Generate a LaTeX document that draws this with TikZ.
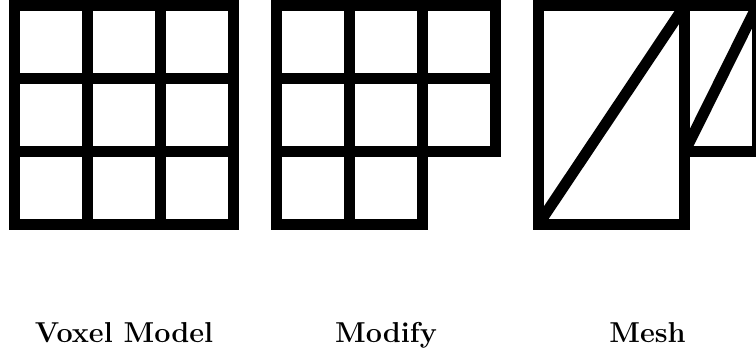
\documentclass[tikz,border=0pt]{standalone}
\usepackage{tikz}
\usetikzlibrary{positioning}

\begin{document}
\begin{tikzpicture}[
    x=0.5pt, y=-0.5pt,
    edge/.style={draw, line width=5.5pt, line cap=rect},
    diag/.style={draw, line width=5.5pt, line cap=butt},
    caption/.style={font=\Large\bfseries, anchor=base}
  ]
    \useasboundingbox (0,0) rectangle (756,352);

    % full 3x3 voxel grid
    \foreach \i in {0,...,3} {
      \draw[edge] (14.5+73*\i,6) -- (14.5+73*\i,225);
      \draw[edge] (14.5,6+73*\i) -- (233.5,6+73*\i);
    }

    % same grid with the corner voxel taken out
    \foreach \i in {0,1,2} {
      \draw[edge] (276.5+73*\i,6) -- (276.5+73*\i,225);
      \draw[edge] (276.5,6+73*\i) -- (495.5,6+73*\i);
    }
    \draw[edge] (495.5,6) -- (495.5,152);
    \draw[edge] (276.5,225) -- (422.5,225);

    % triangulated outline
    \draw[edge] (538,6) rectangle (684.5,225);
    \draw[edge] (684.5,6) rectangle (757,152);
    \draw[diag] (538,225) -- (684.5,6);
    \draw[diag] (684.5,152) -- (757,6);

    \node[caption] (voxel) at (124,343) {Voxel Model};
    \node[caption] (modify) at (386,343) {Modify};
    \node[caption] (mesh) at (647.5,343) {Mesh};
\end{tikzpicture}
\end{document}
